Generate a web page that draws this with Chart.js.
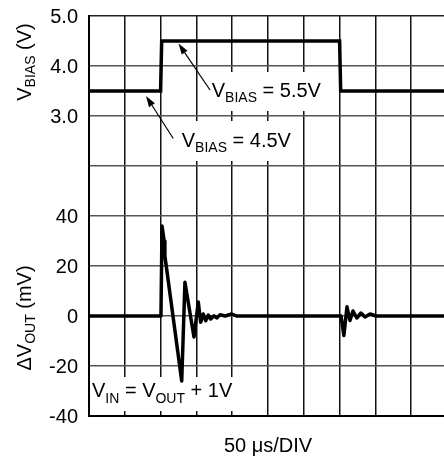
<!DOCTYPE html>
<html>
<head>
<meta charset="utf-8">
<script src="https://cdn.jsdelivr.net/npm/chart.js@4/dist/chart.umd.min.js"></script>
<style>
html,body{margin:0;padding:0;background:#fff;overflow:hidden;}
canvas{display:block;}
</style>
</head>
<body>
<canvas id="c" width="452" height="462"></canvas>
<script>
// ---- data (time in µs, 50 µs per division) ----
const vbiasTimeUs = [0, 100, 101.5, 350, 351.5, 500];
const vbiasVolts  = [3.5, 3.5, 4.5, 4.5, 3.5, 3.5];

const voutTimeUs = [0, 100.5, 102, 105, 106, 129.5, 134, 146.6, 152.6, 156, 159.6, 163, 166.6, 170, 174.6, 178.4, 183, 190, 199.3, 206,
                    352, 356, 360.3, 364.5, 368.7, 374, 379.9, 385.5, 392.5, 400.8, 500];
const voutMv     = [0, 0, 36, 30, 24, -26, 13.5, -8.4, 5.6, -2.5, 0.8, -1.9, 0.4, -1.2, 0.1, -0.8, 0.5, 0, 0.8, 0,
                    0, -7.8, 3.7, -1.8, 2, -0.8, 1.2, -0.4, 0.8, 0, 0];

// tick labels: lower half in mV, upper half in volts
const mvTickLabels = [-40, -20, 0, 20, 40];
const vTickLabels  = ['3.0', '4.0', '5.0'];

const MAIN = '20px "Liberation Sans", Arial, sans-serif';
const SUB  = '14px "Liberation Sans", Arial, sans-serif';

function toXY(times, vals){ return times.map((t,i)=>({x:t, y:vals[i]})); }

function drawRich(ctx, parts, x, y, subDy, align){
  let total = 0;
  const widths = parts.map(p => { ctx.font = p.sub ? SUB : MAIN; const w = ctx.measureText(p.t).width; total += w; return w; });
  if (align === 'center') x -= total/2;
  ctx.textAlign = 'left';
  ctx.textBaseline = 'alphabetic';
  parts.forEach((p,i) => {
    ctx.font = p.sub ? SUB : MAIN;
    ctx.fillText(p.t, x, y + (p.sub ? subDy : 0));
    x += widths[i];
  });
}

// annotations in data units (x: µs, y: V on 'yv' or mV on 'y')
const boxes = [
  {axis:'yv', x0:162, x1:346, y0:3.88, y1:3.1},
  {axis:'yv', x0:120, x1:294, y0:2.9, y1:2.1},
  {axis:'y',  x0:0,   x1:218, y0:-24.4, y1:-38}
];
const arrows = [
  {axis:'yv', tx:125, ty:4.45, fx:169, fy:3.52},
  {axis:'yv', tx:79.6, ty:3.4, fx:117.7, fy:2.55}
];
const labels = [
  {axis:'yv', x:171.4, y:3.38, subDy:5, parts:[{t:'V'},{t:'BIAS',sub:1},{t:' = 5.5V'}]},
  {axis:'yv', x:129.5, y:2.38, subDy:5, parts:[{t:'V'},{t:'BIAS',sub:1},{t:' = 4.5V'}]},
  {axis:'y',  x:4.2, y:-32.4, subDy:6, parts:[{t:'V'},{t:'IN',sub:1},{t:' = V'},{t:'OUT',sub:1},{t:' + 1V'}]}
];

const overlay = {
  id:'overlay',
  beforeDatasetsDraw(chart){
    const ctx = chart.ctx, sx = chart.scales.x;
    ctx.save();
    ctx.fillStyle = '#fff';
    boxes.forEach(b => {
      const sy = chart.scales[b.axis];
      const x0 = Math.max(sx.getPixelForValue(b.x0), chart.chartArea.left + 1), x1 = sx.getPixelForValue(b.x1);
      const y0 = sy.getPixelForValue(b.y0), y1 = sy.getPixelForValue(b.y1);
      ctx.fillRect(x0, y0, x1 - x0, y1 - y0);
    });
    ctx.restore();
  },
  afterDatasetsDraw(chart){
    const ctx = chart.ctx, sx = chart.scales.x;
    ctx.save();
    ctx.strokeStyle = '#000'; ctx.fillStyle = '#000'; ctx.lineWidth = 1.2;
    arrows.forEach(a => {
      const sy = chart.scales[a.axis];
      const tx = sx.getPixelForValue(a.tx), ty = sy.getPixelForValue(a.ty);
      const fx = sx.getPixelForValue(a.fx), fy = sy.getPixelForValue(a.fy);
      const ang = Math.atan2(ty - fy, tx - fx);
      const L = 11, W = 3.5;
      const bx = tx - L*Math.cos(ang), by = ty - L*Math.sin(ang);
      ctx.beginPath(); ctx.moveTo(fx, fy); ctx.lineTo(bx, by); ctx.stroke();
      ctx.beginPath();
      ctx.moveTo(tx, ty);
      ctx.lineTo(bx + W*Math.sin(ang), by - W*Math.cos(ang));
      ctx.lineTo(bx - W*Math.sin(ang), by + W*Math.cos(ang));
      ctx.closePath(); ctx.fill();
    });
    labels.forEach(l => {
      const sy = chart.scales[l.axis];
      drawRich(ctx, l.parts, sx.getPixelForValue(l.x), sy.getPixelForValue(l.y), l.subDy, 'left');
    });
    ctx.restore();
  },
  afterDraw(chart){
    const ctx = chart.ctx;
    ctx.save();
    ctx.fillStyle = '#000';
    const titles = [
      {cy: chart.scales.yv.getPixelForValue(4.08), parts:[{t:'V'},{t:'BIAS',sub:1},{t:' (V)'}]},
      {cy: chart.scales.y.getPixelForValue(-0.8), parts:[{t:'ΔV'},{t:'OUT',sub:1},{t:' (mV)'}]}
    ];
    titles.forEach(tt => {
      ctx.save();
      ctx.translate(31, tt.cy);
      ctx.rotate(-Math.PI/2);
      drawRich(ctx, tt.parts, 0, 0, 4, 'center');
      ctx.restore();
    });
    ctx.restore();
  }
};

new Chart(document.getElementById('c'), {
  type: 'line',
  data: {
    datasets: [
      {label:'VBIAS', data: toXY(vbiasTimeUs, vbiasVolts), yAxisID:'yv',
       borderColor:'#000', borderWidth:3.5, pointRadius:0, tension:0, fill:false, borderJoinStyle:'miter'},
      {label:'dVOUT', data: toXY(voutTimeUs, voutMv), yAxisID:'y',
       borderColor:'#000', borderWidth:3.5, pointRadius:0, tension:0, fill:false, borderJoinStyle:'round'}
    ]
  },
  options: {
    responsive:false, animation:false, devicePixelRatio:1,
    layout:{padding:{left:0, top:16, right:5, bottom:0}},
    plugins:{legend:{display:false}, tooltip:{enabled:false}},
    scales:{
      x:{type:'linear', min:0, max:500,
         ticks:{stepSize:50, display:false},
         grid:{color:'#111', lineWidth:1.5, drawTicks:false},
         border:{color:'#000', width:2},
         title:{display:true, text:'50 μs/DIV', color:'#000', font:{family:'"Liberation Sans", Arial, sans-serif', size:20}, padding:{top:0, bottom:4}},
         afterFit(s){ s.height = 46; s.paddingLeft = 0; s.paddingRight = 0; }
      },
      y:{type:'linear', min:-40, max:120, position:'left',
         ticks:{stepSize:20, color:'#000', padding:11, labelOffset:1.5,
                font:{family:'"Liberation Sans", Arial, sans-serif', size:20},
                callback(v){
                  if (v <= 40) return mvTickLabels.includes(v) ? String(v) : '';
                  const idx = (v - 80)/20;
                  return idx >= 0 && idx < vTickLabels.length ? vTickLabels[idx] : '';
                }},
         grid:{color(c){ return c.tick && c.tick.value === 120 ? '#222' : '#555'; }, lineWidth:1.5, drawTicks:false},
         border:{color:'#000', width:2},
         afterFit(s){ s.width = 89; s.paddingTop = 0; s.paddingBottom = 0; }
      },
      yv:{type:'linear', min:-3, max:5, display:false}
    }
  },
  plugins:[overlay]
});
</script>
</body>
</html>
